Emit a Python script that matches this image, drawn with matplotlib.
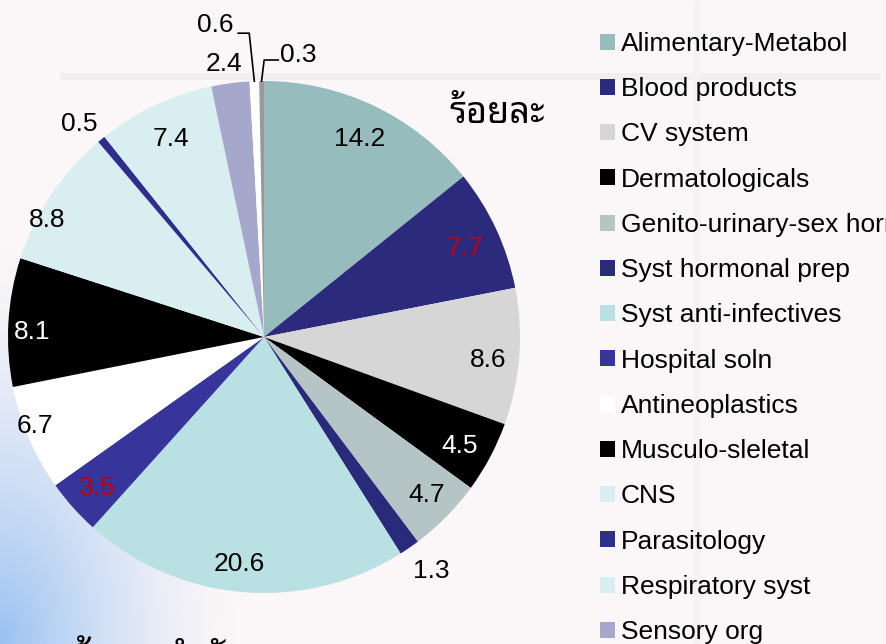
import matplotlib
matplotlib.use("Agg")
import matplotlib.pyplot as plt
from matplotlib import font_manager
import numpy as np

# ---------------- data ----------------
categories = ["Alimentary-Metabol", "Blood products", "CV system", "Dermatologicals",
              "Genito-urinary-sex hormones", "Syst hormonal prep", "Syst anti-infectives",
              "Hospital soln", "Antineoplastics", "Musculo-sleletal", "CNS", "Parasitology",
              "Respiratory syst", "Sensory org", "Diagnostic agents", "Various"]
values = [14.2, 7.7, 8.6, 4.5, 4.7, 1.3, 20.6, 3.5, 6.7, 8.1, 8.8, 0.5, 7.4, 2.4, 0.6, 0.3]
value_labels = ["14.2", "7.7", "8.6", "4.5", "4.7", "1.3", "20.6", "3.5", "6.7", "8.1",
                "8.8", "0.5", "7.4", "2.4", "0.6", "0.3"]
title_text = "ร้อยละ"
footer_text = "ข้อมูลสำนักงาน"

# ---------------- style ----------------
colors = ["#97BCBD", "#2B2A7C", "#D6D6D6", "#000000", "#B5C5C5", "#2A2A7A", "#B9E1E3",
          "#37349C", "#FFFFFF", "#000000", "#D9EEF1", "#2E2F8C", "#D9EEF0", "#A6A8CB",
          "#FFFFFF", "#999999"]
label_colors = ["black", "#C00000", "black", "white", "black", "black", "black", "#C00000",
                "black", "white", "black", "black", "black", "black", "black", "black"]
label_radius = [0.867, 0.863, 0.878, 0.87, 0.88, 1.115, 0.884, 0.871, 0.958, 0.906, 0.967,
                1.11, 0.863, 1.087, None, None]
label_dtheta = [0, -0.4, -0.8, -0.5, 1.0, 1.3, -1.4, 0, -2.6, 1.4, 4.8, 1.1, -0.4, 0.8, 0, 0]

# Thai font detection
thai_fonts = set()
try:
    from fontTools.ttLib import TTFont
    for f in font_manager.fontManager.ttflist:
        if f.name in thai_fonts:
            continue
        try:
            tt = TTFont(f.fname, fontNumber=0, lazy=True)
            cmap = tt.getBestCmap()
            if cmap and 0x0E23 in cmap:
                thai_fonts.add(f.name)
        except Exception:
            pass
except Exception:
    pass
thai_font = "DejaVu Sans"
for cand in ["Noto Sans Thai Looped", "Noto Sans Thai", "Sarabun", "Loma", "Tlwg Typo"]:
    if cand in thai_fonts:
        thai_font = cand
        break
if thai_font == "DejaVu Sans" and thai_fonts:
    thai_font = sorted(thai_fonts)[0]

base_font = "Liberation Sans"
plt.rcParams["font.family"] = [base_font, "DejaVu Sans"]

W, H = 887, 644
fig = plt.figure(figsize=(W / 100, H / 100), dpi=100)
bg = "#FBF7F8"
fig.patch.set_facecolor(bg)

# background corner gradient (bottom-left)
bax = fig.add_axes([0, 0, 1, 1])
bax.set_xlim(0, W)
bax.set_ylim(H, 0)
bax.axis("off")
yy, xx = np.mgrid[0:H, 0:W]
d = np.sqrt((xx / 1.0) ** 2 + ((H - yy) / 1.7) ** 2)
t = np.clip(1 - d / 240.0, 0, 1) ** 1.5
img = np.zeros((H, W, 4))
img[..., 0] = 0.60
img[..., 1] = 0.76
img[..., 2] = 0.95
img[..., 3] = t
bax.imshow(img, extent=[0, W, H, 0], aspect="auto", zorder=0)
# faint decorative bands
bax.plot([60, 880], [76, 76], color="#F2EEF0", lw=5, solid_capstyle="butt", zorder=1)
bax.plot([697, 697], [0, H], color="#F6F2F4", lw=5, solid_capstyle="butt", zorder=1)

# ---------------- pie ----------------
cx, cy, R = 264, 337, 256
ax = fig.add_axes([(cx - R) / W, (H - cy - R) / H, 2 * R / W, 2 * R / H])
ax.axis("off")
wedges, _ = ax.pie(values, colors=colors, startangle=90, counterclock=False,
                   radius=1.0, wedgeprops=dict(linewidth=0))
ax.set_xlim(-1, 1)
ax.set_ylim(-1, 1)

FS = 19
for i, w in enumerate(wedges):
    r = label_radius[i]
    if r is None:
        continue
    mid = np.deg2rad((w.theta1 + w.theta2) / 2 + label_dtheta[i])
    ax.text(r * np.cos(mid), r * np.sin(mid), value_labels[i], ha="center",
            va="center_baseline", fontsize=FS, color=label_colors[i], clip_on=False)

# leader-line labels for the two smallest slices
for i, (elbow_dx, elbow_dy, end_dx, tx, ha, tdy) in zip(
        [14, 15], [(-0.02, 0.1875, -0.043, -0.12, "right", 0.04),
                   (0.01, 0.082, 0.055, 0.062, "left", 0.03)]):
    w = wedges[i]
    mid = np.deg2rad((w.theta1 + w.theta2) / 2)
    x0, y0 = np.cos(mid), np.sin(mid)
    ex, ey = x0 + elbow_dx, y0 + elbow_dy
    ax.plot([x0, ex, ex + end_dx], [y0, ey, ey], color="black", lw=1.2, clip_on=False)
    ax.text(tx, ey + tdy, value_labels[i], ha=ha, va="center_baseline",
            fontsize=FS, color="black", clip_on=False)

# ---------------- texts ----------------
fig.text(497 / W, 1 - 114 / H, title_text, fontsize=26, family=[thai_font, "DejaVu Sans"],
         ha="center", va="center", color="black")
fig.text(72 / W, 1 - 670 / H, footer_text, fontsize=28, family=[thai_font, "DejaVu Sans"],
         ha="left", va="baseline", color="black")

# ---------------- legend ----------------
fig.legend(wedges, categories, loc="upper left", bbox_to_anchor=(600 / W, 1 - 32 / H),
           frameon=False, fontsize=FS, handlelength=0.55, handleheight=0.55,
           handletextpad=0.25, labelspacing=0.805, borderaxespad=0, borderpad=0)

fig.savefig("out.png", dpi=100, facecolor=fig.get_facecolor())
